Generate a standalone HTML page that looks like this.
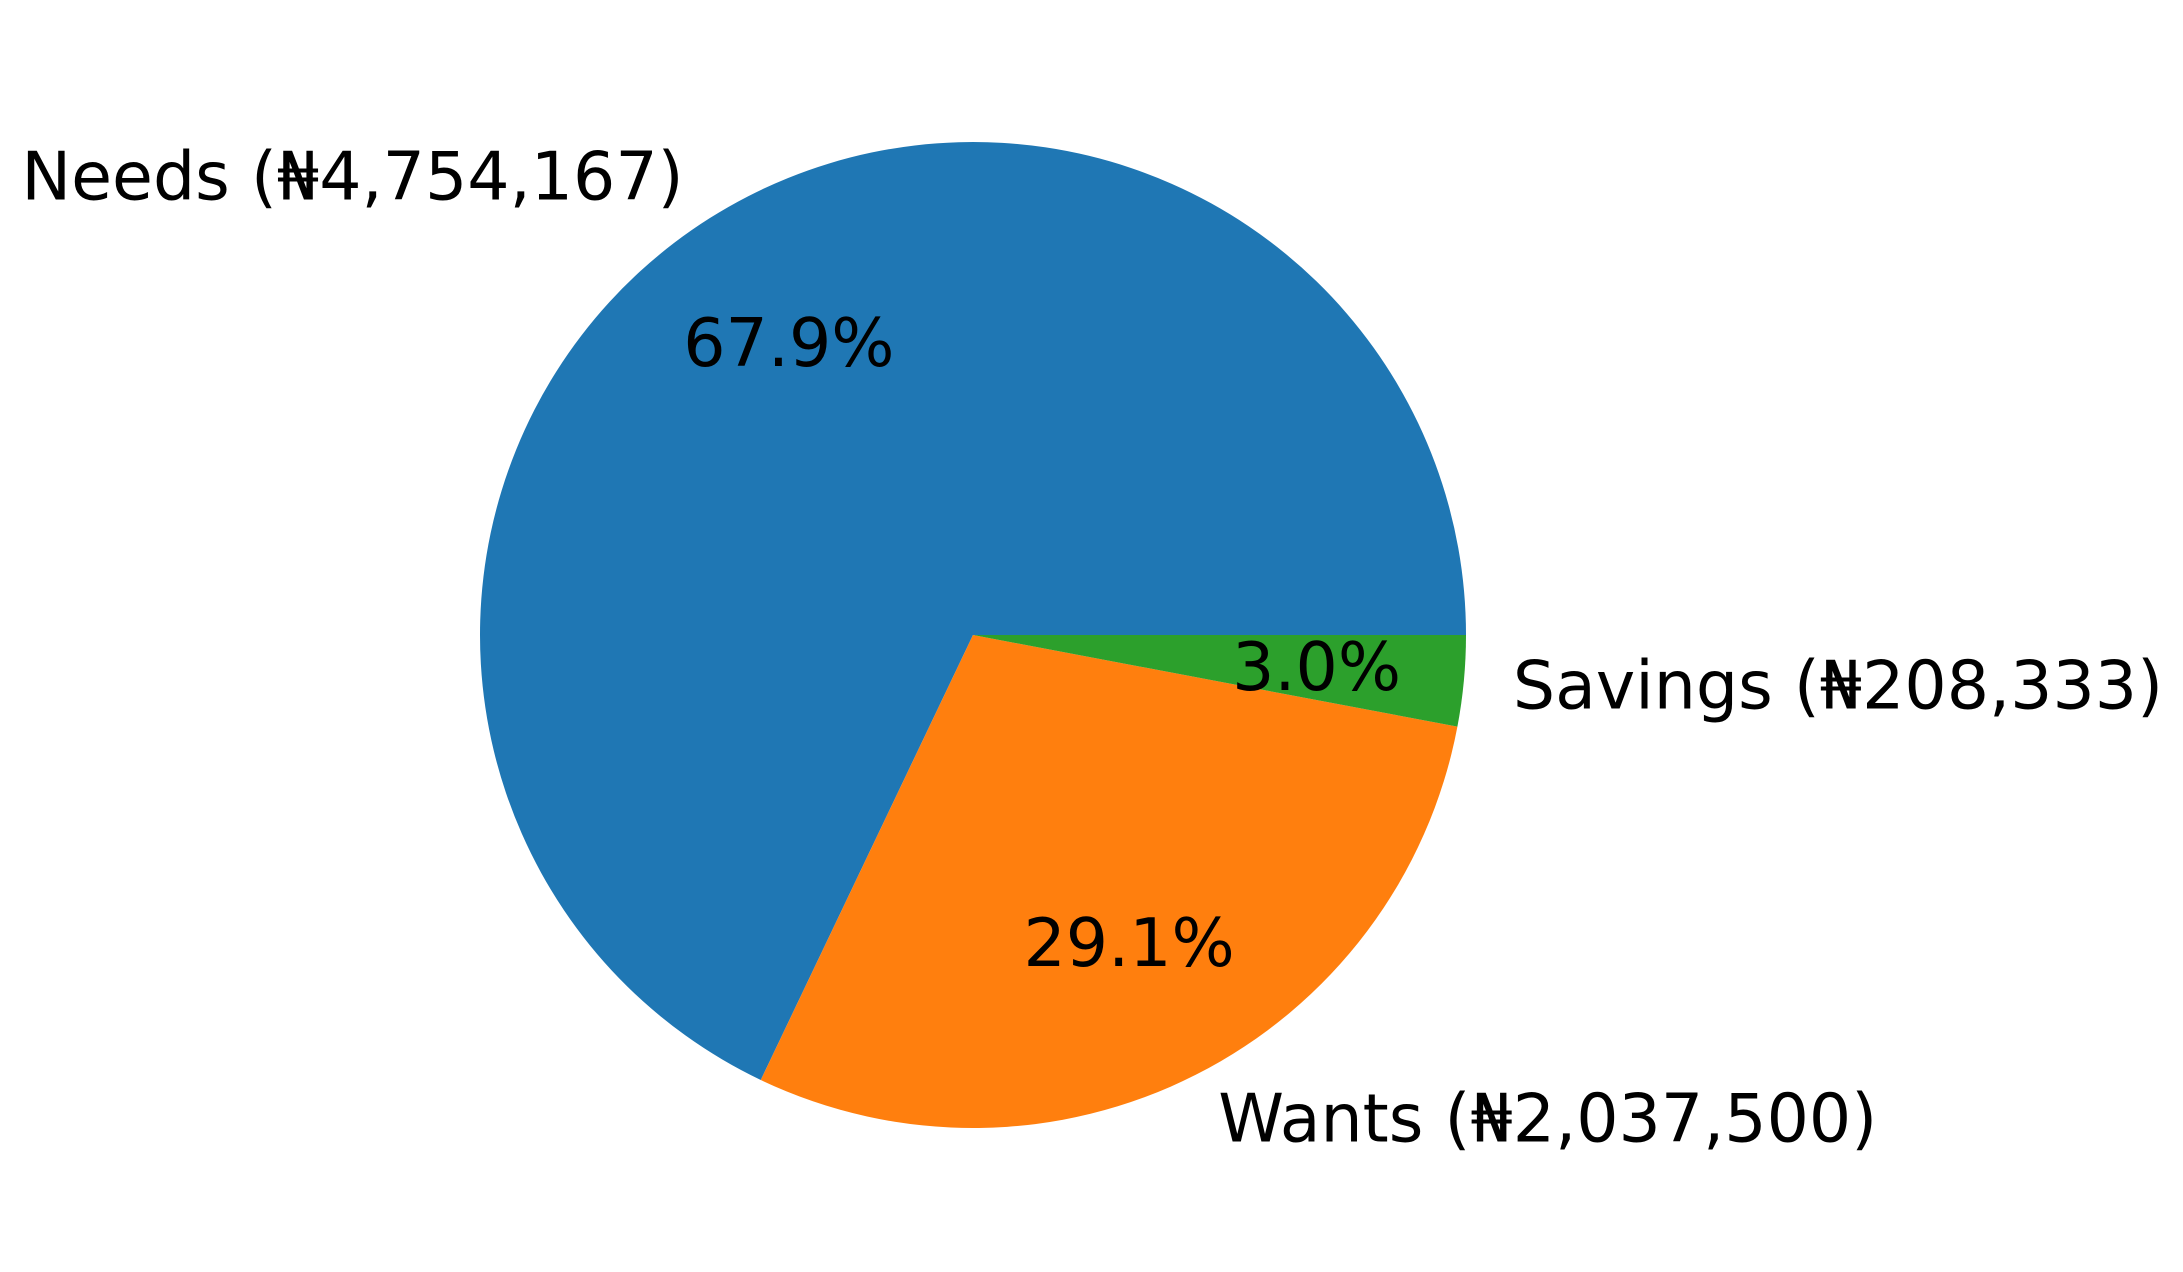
<!DOCTYPE html>
<html><head><meta charset="utf-8"><style>
html,body{margin:0;padding:0;background:#fff;}
svg{display:block;}
text{font-family:"DejaVu Sans","Liberation Sans",sans-serif;font-size:66.5px;fill:#000;}
</style></head><body>
<svg id="chart" width="2183" height="1272" viewBox="0 0 2183 1272" xmlns="http://www.w3.org/2000/svg"></svg>
<script>
const categories = ["Needs", "Wants", "Savings"];
const values = [4754167, 2037500, 208333];
const colors = ["#1f77b4", "#ff7f0e", "#2ca02c"];
const cx = 973, cy = 635, r = 493;
const svg = document.getElementById('chart');
const NS = 'http://www.w3.org/2000/svg';
const total = values.reduce((a, b) => a + b, 0);
function pt(angDeg, rad) {
  const a = angDeg * Math.PI / 180;
  return [cx + rad * Math.cos(a), cy - rad * Math.sin(a)];
}
function fmt(n){return n.toLocaleString('en-US');}
let start = 0;
values.forEach((v, i) => {
  const sweep = v / total * 360;
  const end = start + sweep;
  const [x1, y1] = pt(start, r), [x2, y2] = pt(end, r);
  const large = sweep > 180 ? 1 : 0;
  const p = document.createElementNS(NS, 'path');
  p.setAttribute('d', `M${cx},${cy} L${x1},${y1} A${r},${r} 0 ${large} 0 ${x2},${y2} Z`);
  p.setAttribute('fill', colors[i]);
  
  
  svg.appendChild(p);
  const mid = start + sweep / 2;
  const [lx, ly] = pt(mid, r * 1.1);
  const t = document.createElementNS(NS, 'text');
  t.setAttribute('x', lx); t.setAttribute('y', ly);
  t.setAttribute('dominant-baseline', 'central');
  t.setAttribute('text-anchor', Math.cos(mid * Math.PI / 180) >= 0 ? 'start' : 'end');
  t.textContent = categories[i] + ' (\u20A6' + fmt(values[i]) + ')';
  
  
  svg.appendChild(t);
  const [px, py] = pt(mid, r * 0.7);
  const pc = document.createElementNS(NS, 'text');
  pc.setAttribute('x', px); pc.setAttribute('y', py);
  pc.setAttribute('dominant-baseline', 'central');
  pc.setAttribute('text-anchor', 'middle');
  pc.textContent = (v / total * 100).toFixed(1) + '%';
  
  
  svg.appendChild(pc);
  start = end;
});
</script>
</body></html>
